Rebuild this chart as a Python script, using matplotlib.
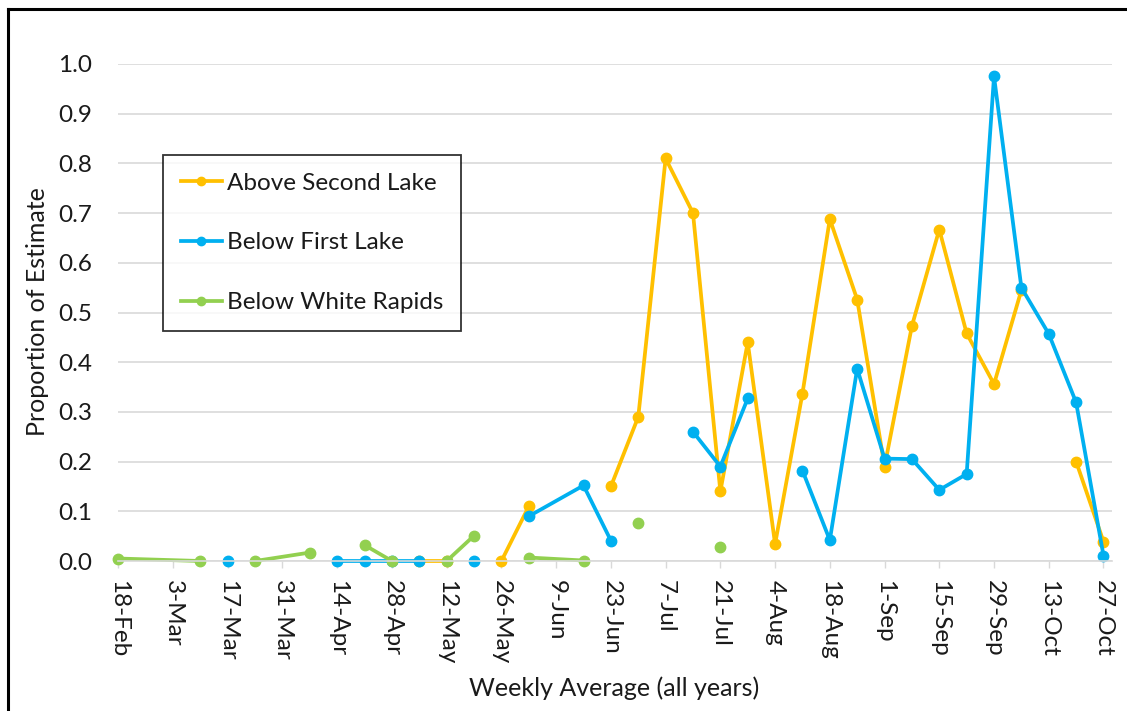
import numpy as np
import matplotlib.pyplot as plt
from matplotlib.lines import Line2D

nan = np.nan

# week index 0 = 18-Feb, labels every second week
tick_weeks = list(range(0, 37, 2))
tick_labels = ['18-Feb', '3-Mar', '17-Mar', '31-Mar', '14-Apr', '28-Apr', '12-May',
               '26-May', '9-Jun', '23-Jun', '7-Jul', '21-Jul', '4-Aug', '18-Aug',
               '1-Sep', '15-Sep', '29-Sep', '13-Oct', '27-Oct']

# nan = break in the line, missing week = line carries on
above_weeks = [11, 12, 13, 14, 15, 16, 18, 19, 20, 21, 22, 23, 24, 25, 26, 27,
               28, 29, 30, 31, 32, 33, 34, 35, 36]
above_vals = [0.0, 0.0, nan, 0.0, 0.11, nan, 0.15, 0.29, 0.81, 0.70, 0.14, 0.44,
              0.034, 0.337, 0.688, 0.526, 0.19, 0.473, 0.667, 0.458, 0.356, 0.545,
              nan, 0.20, 0.039]

first_weeks = [4, 5, 8, 9, 10, 11, 12, 13, 14, 15, 17, 18, 19, 21, 22, 23, 24,
               25, 26, 27, 28, 29, 30, 31, 32, 33, 34, 35, 36]
first_vals = [0.0, nan, 0.0, 0.0, 0.0, 0.0, nan, 0.0, nan, 0.09, 0.152, 0.041, nan,
              0.26, 0.19, 0.327, nan, 0.182, 0.042, 0.387, 0.206, 0.205, 0.143,
              0.175, 0.975, 0.55, 0.457, 0.319, 0.011]

white_weeks = [0, 3, 4, 5, 7, 8, 9, 10, 11, 12, 13, 14, 15, 17, 18, 19, 20, 22]
white_vals = [0.005, 0.0, nan, 0.0, 0.017, nan, 0.032, 0.0, nan, 0.0, 0.051, nan,
              0.007, 0.001, nan, 0.077, nan, 0.028]

plt.rcParams['font.family'] = ['Lato', 'DejaVu Sans']
plt.rcParams['text.color'] = '#1a1a1a'
plt.rcParams['xtick.labelcolor'] = '#1a1a1a'
plt.rcParams['ytick.labelcolor'] = '#1a1a1a'

fig = plt.figure(figsize=(11.27, 7.11), dpi=100)
ax = fig.add_axes([118.3 / 1127, 1 - 561 / 711, (1111.7 - 118.3) / 1127, (561 - 64) / 711])

style = dict(lw=2.7, marker='o', markersize=7.5, clip_on=False)
ax.plot(above_weeks, above_vals, color='#FFC000', label='Above Second Lake', **style)
ax.plot(first_weeks, first_vals, color='#00B0F0', label='Below First Lake', **style)
ax.plot(white_weeks, white_vals, color='#92D050', label='Below White Rapids', **style)

ax.set_xlim(0, 36.3)
ax.set_ylim(0, 1.0)
ax.set_yticks(np.arange(0, 1.01, 0.1))
ax.set_yticklabels([f'{v:.1f}' for v in np.arange(0, 1.01, 0.1)], fontsize=17.5)
ax.set_xticks(tick_weeks)
ax.set_xticklabels(tick_labels, rotation=-90, fontsize=17.5)
ax.tick_params(axis='y', length=0, pad=19)
ax.tick_params(axis='x', length=5, color='#d9d9d9', width=1, pad=9)
ax.grid(axis='y', color='#d9d9d9', lw=1.2)
ax.set_axisbelow(True)
for s in ['top', 'right', 'left']:
    ax.spines[s].set_visible(False)
ax.spines['bottom'].set_color('#d9d9d9')
ax.spines['bottom'].set_linewidth(1.2)

fig.text(38 / 1127, 1 - 312 / 711, 'Proportion of Estimate', rotation=90,
         ha='center', va='center', fontsize=18)
fig.text(614 / 1127, 1 - 688 / 711, 'Weekly Average (all years)',
         ha='center', va='center', fontsize=18)

leg = ax.legend(loc='upper left', bbox_to_anchor=(163 / 1127, 1 - 155 / 711),
                bbox_transform=fig.transFigure, fontsize=17.5, frameon=True,
                fancybox=False, edgecolor='black', handlelength=1.7,
                labelspacing=1.6, borderpad=0.72, handletextpad=0.2,
                borderaxespad=0, markerscale=0.8)
leg.get_frame().set_linewidth(1.3)

# outer chart border (top and left visible)
fig.add_artist(Line2D([8 / 1127, 1.0], [1 - 9 / 711, 1 - 9 / 711],
                      color='black', lw=2.2, transform=fig.transFigure))
fig.add_artist(Line2D([8 / 1127, 8 / 1127], [0, 1 - 9 / 711],
                      color='black', lw=2.2, transform=fig.transFigure))

fig.savefig('out.png', dpi=100)
